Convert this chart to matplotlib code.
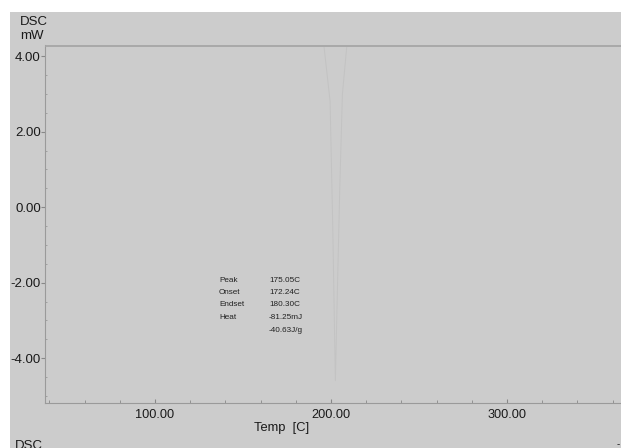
import matplotlib
matplotlib.use("Agg")
import matplotlib.pyplot as plt
from matplotlib.patches import Rectangle
from matplotlib.ticker import MultipleLocator, FixedLocator

plt.rcParams['font.family'] = ['Liberation Sans', 'DejaVu Sans']

# DSC trace (very faint in the reference)
base_temp = [38, 365]
base_dsc = [4.28, 4.28]
peak_temp = [196, 199.5, 201, 202.5, 203.5, 205, 206.5, 209]
peak_dsc = [4.28, 2.8, -0.5, -4.6, -2.5, 0.5, 3.0, 4.28]

xticks = [100, 200, 300]
xticklabels = ["100.00", "200.00", "300.00"]
yticks = [-4, -2, 0, 2, 4]
yticklabels = ["-4.00", "-2.00", "0.00", "2.00", "4.00"]

ann_names = ["Peak", "Onset", "Endset", "Heat", ""]
ann_values = ["175.05C", "172.24C", "180.30C", "-81.25mJ", "-40.63J/g"]

W, H = 621, 448
fig = plt.figure(figsize=(W / 100, H / 100), dpi=100)
fig.patch.set_facecolor("white")
fig.patches.append(Rectangle((10 / W, 0), 1, 1 - 12 / H, transform=fig.transFigure,
                             facecolor="#cccccc", edgecolor="none", zorder=-10))

ax = fig.add_axes([45 / W, 1 - 403 / H, 1 - 45 / W, (403 - 45) / H])
ax.set_facecolor("none")
ax.set_xlim(37.5, 364.8)
ax.set_ylim(-5.19, 4.30)

# faint trace
ax.plot(base_temp, base_dsc, color="#a6a6a6", lw=1.3, zorder=3)
ax.plot(peak_temp, peak_dsc, color="#c3c3c3", lw=0.7, zorder=2)

for s in ["top", "right"]:
    ax.spines[s].set_visible(False)
for s in ["left", "bottom"]:
    ax.spines[s].set_color("#9a9a9a")
    ax.spines[s].set_linewidth(0.8)

ax.xaxis.set_major_locator(FixedLocator(xticks))
ax.set_xticklabels(xticklabels)
ax.xaxis.set_minor_locator(MultipleLocator(20))
ax.yaxis.set_major_locator(FixedLocator(yticks))
ax.set_yticklabels(yticklabels)
ax.yaxis.set_minor_locator(MultipleLocator(0.5))
ax.tick_params(axis="x", which="major", direction="in", length=3, color="#888888",
               labelsize=9.2, pad=4, labelcolor="#1a1a1a")
ax.tick_params(axis="x", which="minor", direction="in", length=2, color="#888888")
ax.tick_params(axis="y", which="major", direction="out", length=3, color="#888888",
               labelsize=9.5, pad=0, labelcolor="#1a1a1a")
ax.tick_params(axis="y", which="minor", direction="in", length=1.5, color="#999999")

fig.text(282 / W, 1 - 428 / H, "Temp  [C]", ha="center", va="center", fontsize=9.3, color="#1a1a1a")
fig.text(20 / W, 1 - 22 / H, "DSC", ha="left", va="center", fontsize=9.5, color="#1a1a1a")
fig.text(20 / W, 1 - 36 / H, "mW", ha="left", va="center", fontsize=9.5, color="#1a1a1a")
fig.text(15 / W, 1 - 446 / H, "DSC", ha="left", va="center", fontsize=9.5, color="#1a1a1a")
fig.text(618 / W, 1 - 444 / H, "-", ha="center", va="center", fontsize=7, color="#1a1a1a")

for i, (n, v) in enumerate(zip(ann_names, ann_values)):
    y = 1 - (280 + i * 12.5) / H
    if n:
        fig.text(219 / W, y, n, ha="left", va="center", fontsize=5.9, color="#222222")
    fig.text(269 / W, y, v, ha="left", va="center", fontsize=5.9, color="#222222")

fig.savefig("out.png", dpi=100, facecolor=fig.get_facecolor())
